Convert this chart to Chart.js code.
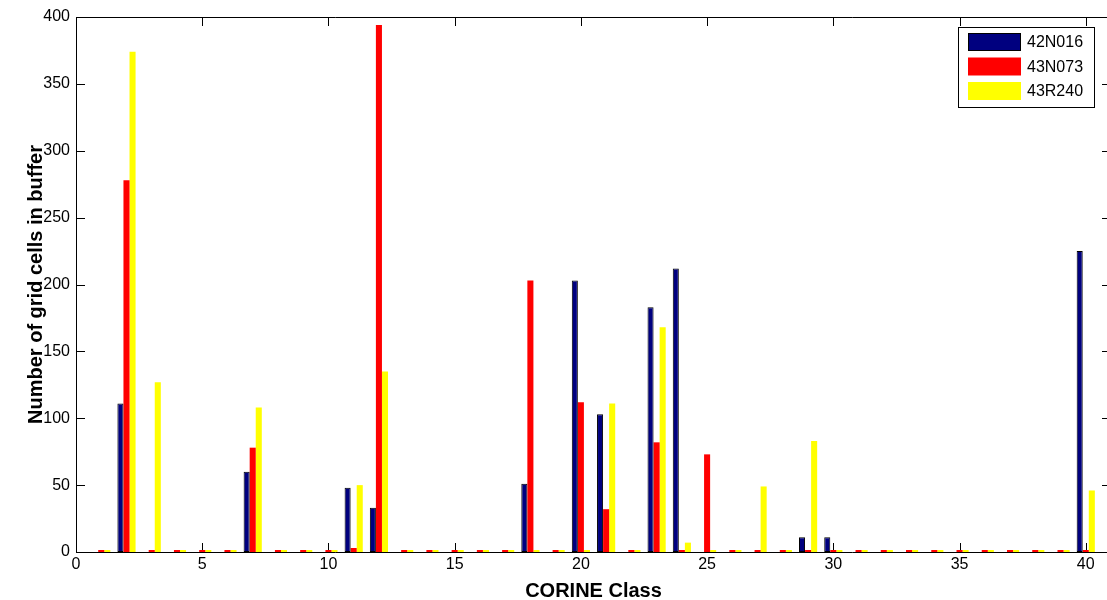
<!DOCTYPE html>
<html>
<head>
<meta charset="utf-8">
<script src="https://cdn.jsdelivr.net/npm/chart.js@4.4.1/dist/chart.umd.min.js"></script>
<style>
  html, body { margin: 0; padding: 0; background: #fff; overflow: hidden; }
  #wrap { width: 1115px; height: 600px; position: relative; }
</style>
</head>
<body>
<div id="wrap"><canvas id="chart"></canvas></div>
<script>
// CORINE classes 1..40
const classes = [1, 2, 3, 4, 5, 6, 7, 8, 9, 10, 11, 12, 13, 14, 15, 16, 17, 18, 19, 20,
  21, 22, 23, 24, 25, 26, 27, 28, 29, 30, 31, 32, 33, 34, 35, 36, 37, 38, 39, 40];

const names = ['42N016', '43N073', '43R240'];

const n42N016 = [0, 111, 0, 0, 0, 0, 60, 0, 0, 0, 48, 33, 0, 0, 0, 0, 0, 51, 0, 203,
  103, 0, 183, 212, 0, 0, 0, 0, 11, 11, 0, 0, 0, 0, 0, 0, 0, 0, 0, 225];
const n43N073 = [0, 278, 0, 0, 0, 0, 78, 0, 0, 0, 3, 394, 0, 0, 0, 0, 0, 203, 0, 112,
  32, 0, 82, 0, 73, 0, 0, 0, 0, 0, 0, 0, 0, 0, 0, 0, 0, 0, 0, 0];
const r43R240 = [0, 374, 127, 0, 0, 0, 108, 0, 0, 0, 50, 135, 0, 0, 0, 0, 0, 0, 0, 0,
  111, 0, 168, 7, 0, 0, 49, 0, 83, 0, 0, 0, 0, 0, 0, 0, 0, 0, 0, 46];

const xTicks = [0, 5, 10, 15, 20, 25, 30, 35, 40];
const yTicks = [0, 50, 100, 150, 200, 250, 300, 350, 400];

const FONT = "'Liberation Sans', Arial, Helvetica, sans-serif";

const pts = arr => classes.map((c, i) => ({ x: c, y: arr[i] }));

// boite + graduations vers l'interieur, facon matlab
const axesBox = {
  id: 'axesBox',
  beforeDatasetsDraw(chart) {
    const { ctx, chartArea: a, scales: { x, y } } = chart;
    ctx.save();
    ctx.strokeStyle = '#000';
    ctx.lineWidth = 1;
    ctx.beginPath();
    ctx.rect(Math.round(a.left) + 0.5, Math.round(a.top) + 0.5,
      Math.round(a.right - a.left), Math.round(a.bottom - a.top));
    xTicks.forEach(v => {
      const px = Math.round(x.getPixelForValue(v)) + 0.5;
      ctx.moveTo(px, a.bottom); ctx.lineTo(px, a.bottom - 9);
      ctx.moveTo(px, a.top); ctx.lineTo(px, a.top + 9);
    });
    yTicks.forEach(v => {
      const py = Math.round(y.getPixelForValue(v)) + 0.5;
      ctx.moveTo(a.left, py); ctx.lineTo(a.left + 9, py);
      ctx.moveTo(a.right, py); ctx.lineTo(a.right - 9, py);
    });
    ctx.stroke();
    ctx.restore();
  }
};

// legende encadree en haut a droite
const boxLegend = {
  id: 'boxLegend',
  afterDraw(chart) {
    const { ctx } = chart;
    const x0 = 958, y0 = 27, w = 136, h = 80;
    ctx.save();
    ctx.fillStyle = '#fff';
    ctx.fillRect(x0, y0, w, h);
    ctx.strokeStyle = '#000';
    ctx.lineWidth = 1;
    ctx.strokeRect(x0 + 0.5, y0 + 0.5, w, h);
    ctx.font = '16px ' + FONT;
    ctx.textBaseline = 'middle';
    chart.data.datasets.forEach((ds, i) => {
      const sy = 33 + i * 24.5;
      ctx.fillStyle = ds.backgroundColor;
      ctx.fillRect(968, sy, 53, 18);
      if (ds.borderWidth) {
        ctx.strokeStyle = '#000';
        ctx.strokeRect(968.5, sy + 0.5, 52, 17);
      }
      ctx.fillStyle = '#000';
      ctx.fillText(ds.label, 1027, sy + 10);
    });
    ctx.restore();
  }
};

new Chart(document.getElementById('chart'), {
  type: 'bar',
  data: {
    datasets: [
      { label: names[0], data: pts(n42N016), backgroundColor: '#00007f', borderColor: '#000', borderWidth: 1 },
      { label: names[1], data: pts(n43N073), backgroundColor: '#ff0000', borderWidth: 0, minBarLength: 2 },
      { label: names[2], data: pts(r43R240), backgroundColor: '#ffff00', borderWidth: 0, minBarLength: 2 }
    ]
  },
  options: {
    responsive: true,
    maintainAspectRatio: false,
    animation: false,
    layout: { padding: { top: 17, right: 4, left: 0, bottom: 0 } },
    datasets: { bar: { categoryPercentage: 0.72, barPercentage: 1, borderSkipped: false } },
    plugins: { legend: { display: false }, tooltip: { enabled: false } },
    scales: {
      x: {
        type: 'linear',
        min: 0,
        max: 41,
        offset: false,
        grid: { display: false, drawTicks: false },
        border: { display: false },
        ticks: {
          stepSize: 5,
          includeBounds: false,
          padding: 3,
          color: '#000',
          font: { family: FONT, size: 16 },
          maxRotation: 0
        },
        title: {
          display: true,
          text: 'CORINE Class',
          color: '#000',
          font: { family: FONT, size: 20, weight: 'bold' },
          padding: { top: 0, bottom: -3 }
        },
        afterFit(scale) { scale.height = 48; }
      },
      y: {
        min: 0,
        max: 400,
        grid: { display: false, drawTicks: false },
        border: { display: false },
        ticks: {
          stepSize: 50,
          padding: 6,
          color: '#000',
          font: { family: FONT, size: 16 }
        },
        title: {
          display: true,
          text: 'Number of grid cells in buffer',
          color: '#000',
          font: { family: FONT, size: 20, weight: 'bold' },
          padding: { top: 24, bottom: 0 }
        },
        afterFit(scale) { scale.width = 76; }
      }
    }
  },
  plugins: [axesBox, boxLegend]
});
</script>
</body>
</html>
